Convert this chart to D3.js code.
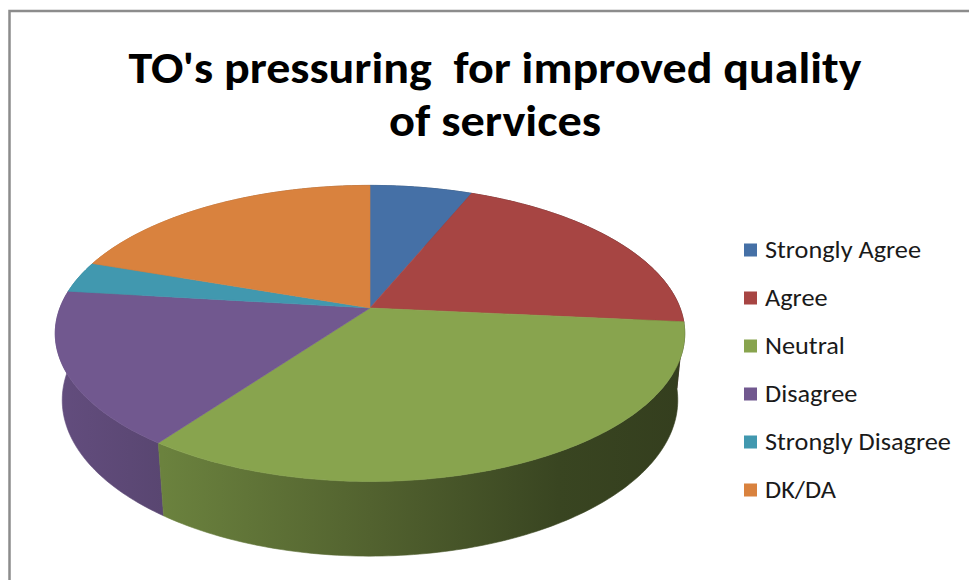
<!DOCTYPE html>
<html>
<head>
<meta charset="utf-8">
<script src="https://cdn.jsdelivr.net/npm/d3@7"></script>
<style>
  html, body { margin: 0; padding: 0; background: #ffffff; }
  svg { display: block; }
  text { white-space: pre; }
</style>
</head>
<body>
<svg id="chart" width="969" height="580"></svg>
<script>
// ---- data ----
const categories = ["Strongly Agree", "Agree", "Neutral", "Disagree", "Strongly Disagree", "DK/DA"];
const values = [6.2, 20.3, 33.5, 16.9, 3.4, 19.7];
const colors = ["#4570a6", "#a74543", "#88a44e", "#71588f", "#4198af", "#d9823e"];
const titleLines = ["TO's pressuring  for improved quality", "of services"];

// ---- layout ----
const svg = d3.select("#chart");
const W = 969, H = 580;

// border
svg.append("rect")
  .attr("x", 9.5).attr("y", 11).attr("width", W + 20).attr("height", H + 20)
  .attr("fill", "#ffffff").attr("stroke", "#8c8c8c").attr("stroke-width", 2.5);

// title
const titleFont = "Carlito, Calibri, Lato, 'Open Sans', sans-serif";
const titleWidths = [733, 212];
const titleY = [83, 136];
titleLines.forEach((t, i) => {
  svg.append("text")
    .attr("x", 495).attr("y", titleY[i])
    .attr("xml:space", "preserve")
    .attr("text-anchor", "middle")
    .attr("font-family", titleFont)
    .attr("font-weight", "bold")
    .attr("font-size", 44)
    .attr("fill", "#000000")
    .attr("textLength", titleWidths[i])
    .attr("lengthAdjust", "spacingAndGlyphs")
    .text(t);
});

// ---- 3D perspective projection of the pie disk ----
const cx = 370, cy = 308;
const tilt = 27.6 * Math.PI / 180;
const sT = Math.sin(tilt), cT = Math.cos(tilt);
const Dist = 5.16, F = 1600, thick = 0.245;
function proj(theta, h) {
  const u = Math.sin(theta), v = Math.cos(theta);
  const depth = Dist + v * cT - h * sT;
  return [cx + F * u / depth, cy - F * (v * sT + h * cT) / depth];
}

const pie = d3.pie().sort(null).value(d => d.value);
const arcs = pie(categories.map((c, i) => ({ name: c, value: values[i], color: colors[i] })));

// gradients for side walls
const defs = svg.append("defs");
const shadeStops = [[0, 0.88], [0.17, 0.79], [0.5, 0.6], [0.8, 0.42], [1, 0.38]];
arcs.forEach((a, i) => {
  const g = defs.append("linearGradient")
    .attr("id", "side" + i)
    .attr("gradientUnits", "userSpaceOnUse")
    .attr("x1", 55).attr("y1", 0).attr("x2", 685).attr("y2", 0);
  const base = d3.rgb(a.data.color);
  shadeStops.forEach(([o, k]) => {
    g.append("stop").attr("offset", o)
      .attr("stop-color", d3.rgb(base.r * k, base.g * k, base.b * k).formatHex());
  });
});

const line = d3.line();
function arcPoints(a0, a1, h) {
  const n = Math.max(4, Math.ceil((a1 - a0) / (Math.PI / 180)));
  const pts = [];
  for (let j = 0; j <= n; j++) pts.push(proj(a0 + (a1 - a0) * j / n, h));
  return pts;
}

// side walls, far first
const walls = arcs.map((a, i) => ({ a, i, mid: Math.cos((a.startAngle + a.endAngle) / 2) }))
  .sort((p, q) => q.mid - p.mid);
const gWalls = svg.append("g");
walls.forEach(({ a, i }) => {
  const top = arcPoints(a.startAngle, a.endAngle, 0);
  const bot = arcPoints(a.startAngle, a.endAngle, -thick).reverse();
  gWalls.append("path")
    .attr("d", line(top.concat(bot)) + "Z")
    .attr("fill", `url(#side${i})`)
    .attr("stroke", `url(#side${i})`)
    .attr("stroke-width", 0.6);
});

// top faces
const gTop = svg.append("g");
arcs.forEach((a) => {
  const pts = [[cx, cy]].concat(arcPoints(a.startAngle, a.endAngle, 0));
  gTop.append("path")
    .attr("d", line(pts) + "Z")
    .attr("fill", a.data.color)
    .attr("stroke", a.data.color)
    .attr("stroke-width", 0.6)
    .attr("stroke-linejoin", "round");
});

// ---- legend ----
const legendFont = "Carlito, Calibri, Lato, 'Open Sans', sans-serif";
const legY = d3.scalePoint().domain(categories).range([250, 490]);
const leg = svg.append("g");
const labels = [];
categories.forEach((c, i) => {
  const y = legY(c);
  leg.append("rect")
    .attr("x", 744).attr("y", y - 6.5).attr("width", 13).attr("height", 13)
    .attr("fill", colors[i]);
  labels.push(leg.append("text")
    .attr("x", 765).attr("y", y + 8)
    .attr("font-family", legendFont)
    .attr("font-size", 24.5)
    .attr("fill", "#1a1a1a")
    .text(c));
});
// stretch labels slightly so "Strongly Agree" spans like the reference
const refW = labels[0].node().getComputedTextLength();
const k = 156 / refW;
if (refW > 0 && Math.abs(k - 1) > 0.01) {
  labels.forEach(t => {
    const w = t.node().getComputedTextLength();
    t.attr("textLength", w * k).attr("lengthAdjust", "spacingAndGlyphs");
  });
}
</script>
</body>
</html>
